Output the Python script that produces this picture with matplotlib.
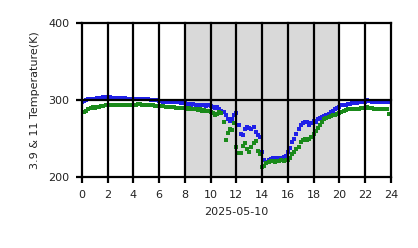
import numpy as np
import matplotlib
matplotlib.use("Agg")
import matplotlib.pyplot as plt

# 10-minute samples, one row per hour
hours = np.arange(0, 24, 1 / 6)

t39 = [297, 299, 300, 301, 301, 302,
       302, 303, 303, 303, 304, 304,
       304, 304, 303, 303, 303, 303,
       303, 303, 303, 302, 302, 302,
       302, 302, 302, 302, 301, 301,
       301, 301, 300, 300, 300, 300,
       299, 299, 298, 298, 298, 298,
       297, 297, 297, 297, 296, 296,
       296, 295, 295, 294, 295, 294,
       294, 293, 294, 293, 292, 293,
       292, 291, 290, 291, 289, 286,
       284, 280, 276, 273, 276, 280,
       283, 268, 256, 255, 262, 265,
       264, 262, 265, 258, 254, 252,
       232, 222, 220, 222, 224, 225,
       224, 225, 224, 225, 226, 228,
       232, 238, 245, 250, 256, 262,
       267, 270, 272, 271, 268, 270,
       273, 272, 275, 277, 278, 279,
       280, 282, 284, 286, 288, 290,
       291, 293, 294, 294, 295, 295,
       296, 296, 296, 297, 297, 297,
       298, 300, 299, 298, 298, 298,
       297, 298, 297, 297, 297, 297]

t11 = [284, 285, 286, 288, 290, 291,
       290, 291, 291, 292, 292, 293,
       293, 294, 294, 294, 294, 294,
       294, 294, 294, 294, 294, 294,
       294, 294, 295, 295, 294, 294,
       294, 293, 293, 293, 292, 292,
       292, 292, 292, 291, 291, 291,
       291, 291, 290, 290, 290, 290,
       290, 289, 290, 289, 288, 289,
       287, 288, 286, 287, 286, 286,
       285, 283, 281, 282, 284, 283,
       272, 248, 257, 263, 261, 270,
       239, 231, 231, 240, 244, 236,
       232, 239, 244, 247, 234, 230,
       213, 215, 218, 220, 221, 221,
       220, 221, 221, 222, 221, 222,
       222, 225, 230, 233, 236, 239,
       246, 248, 250, 248, 249, 252,
       256, 260, 264, 268, 272, 275,
       277, 278, 279, 280, 281, 282,
       283, 285, 286, 287, 288, 288,
       288, 289, 289, 289, 290, 290,
       290, 291, 290, 290, 289, 289,
       289, 289, 289, 289, 289, 282]

xticks = list(range(0, 25, 2))
yticks = [200, 300, 400]

fig = plt.figure(figsize=(4.18, 2.48), dpi=100)
ax = fig.add_axes([0.196, 0.286, 0.739, 0.621])

ax.axvspan(8, 20, color='#d9d9d9', zorder=0, lw=0)
ax.plot(hours, t39, 's', color='#2020e8', ms=3.4, mew=0, zorder=2)
ax.plot(hours, t11, 's', color='#1a8a1a', ms=3.4, mew=0, zorder=2)

ax.set_xlim(0, 24)
ax.set_ylim(200, 400)
ax.set_xticks(xticks)
ax.set_yticks(yticks)
ax.set_axisbelow(False)
ax.grid(True, color='black', lw=1.6)
for line in ax.get_xgridlines() + ax.get_ygridlines():
    line.set_clip_on(False)
    line.set_zorder(3)
for s in ax.spines.values():
    s.set_visible(False)
ax.tick_params(length=4, width=1.6, color='black', labelsize=8,
               labelcolor='#222222', pad=5)
ax.set_xlabel('2025-05-10', fontsize=8, color='#222222', labelpad=5)
ax.set_ylabel('3.9 & 11 Temperature(K)', fontsize=8, color='#222222', labelpad=6)

fig.savefig('out.png', dpi=100)
